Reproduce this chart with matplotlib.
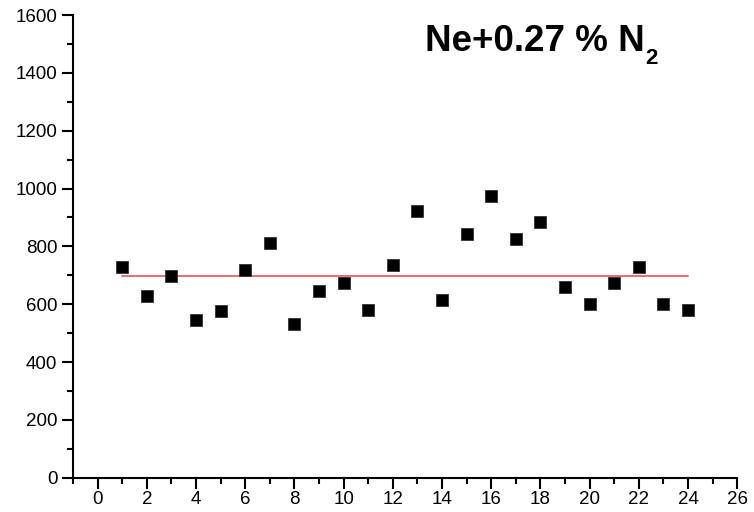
import matplotlib
matplotlib.use("Agg")
import matplotlib.pyplot as plt
from matplotlib.ticker import MultipleLocator

plt.rcParams['font.family'] = ['Liberation Sans', 'DejaVu Sans']

x_values = [1, 2, 3, 4, 5, 6, 7, 8, 9, 10, 11, 12,
            13, 14, 15, 16, 17, 18, 19, 20, 21, 22, 23, 24]
y_values = [727, 627, 696, 544, 576, 719, 812, 532, 645, 674, 579, 735,
            922, 615, 844, 973, 825, 884, 658, 600, 672, 730, 602, 581]
mean_x = [1, 24]
mean_y = [699, 699]
title_main = "Ne+0.27 % N"
title_sub = "2"

fig = plt.figure(figsize=(7.54, 5.12), dpi=100)
ax = fig.add_axes([73/754, 1 - 477.7/512, (737.3-73)/754, (477.7-15)/512])

ax.plot(mean_x, mean_y, color='#e84545', lw=1.1, zorder=2)
ax.plot(x_values, y_values, ls='none', marker='s', ms=8.6, mfc='black',
        mec='#333333', mew=0.6, zorder=3)

ax.set_xlim(-1, 26)
ax.set_ylim(0, 1600)
ax.xaxis.set_major_locator(MultipleLocator(2))
ax.xaxis.set_minor_locator(MultipleLocator(1))
ax.yaxis.set_major_locator(MultipleLocator(200))
ax.yaxis.set_minor_locator(MultipleLocator(100))

for s in ['top', 'right']:
    ax.spines[s].set_visible(False)
for s in ['left', 'bottom']:
    ax.spines[s].set_linewidth(1.5)

ax.tick_params(which='major', direction='out', length=7.8, width=1.5,
               labelsize=13.5)
ax.tick_params(which='minor', direction='out', length=4, width=1.5)
ax.tick_params(axis='x', which='both', top=False, pad=2)
ax.tick_params(axis='y', which='both', right=False, pad=3.5)

t = fig.text(425/754, 1 - 51/512, title_main, fontsize=26.5, fontweight='bold',
             ha='left', va='baseline')
fig.canvas.draw()
bb = t.get_window_extent()
fig.text((bb.x1 + 1)/754, 1 - 64/512, title_sub, fontsize=16,
         fontweight='bold', ha='left', va='baseline')

fig.savefig("out.png", dpi=100)
